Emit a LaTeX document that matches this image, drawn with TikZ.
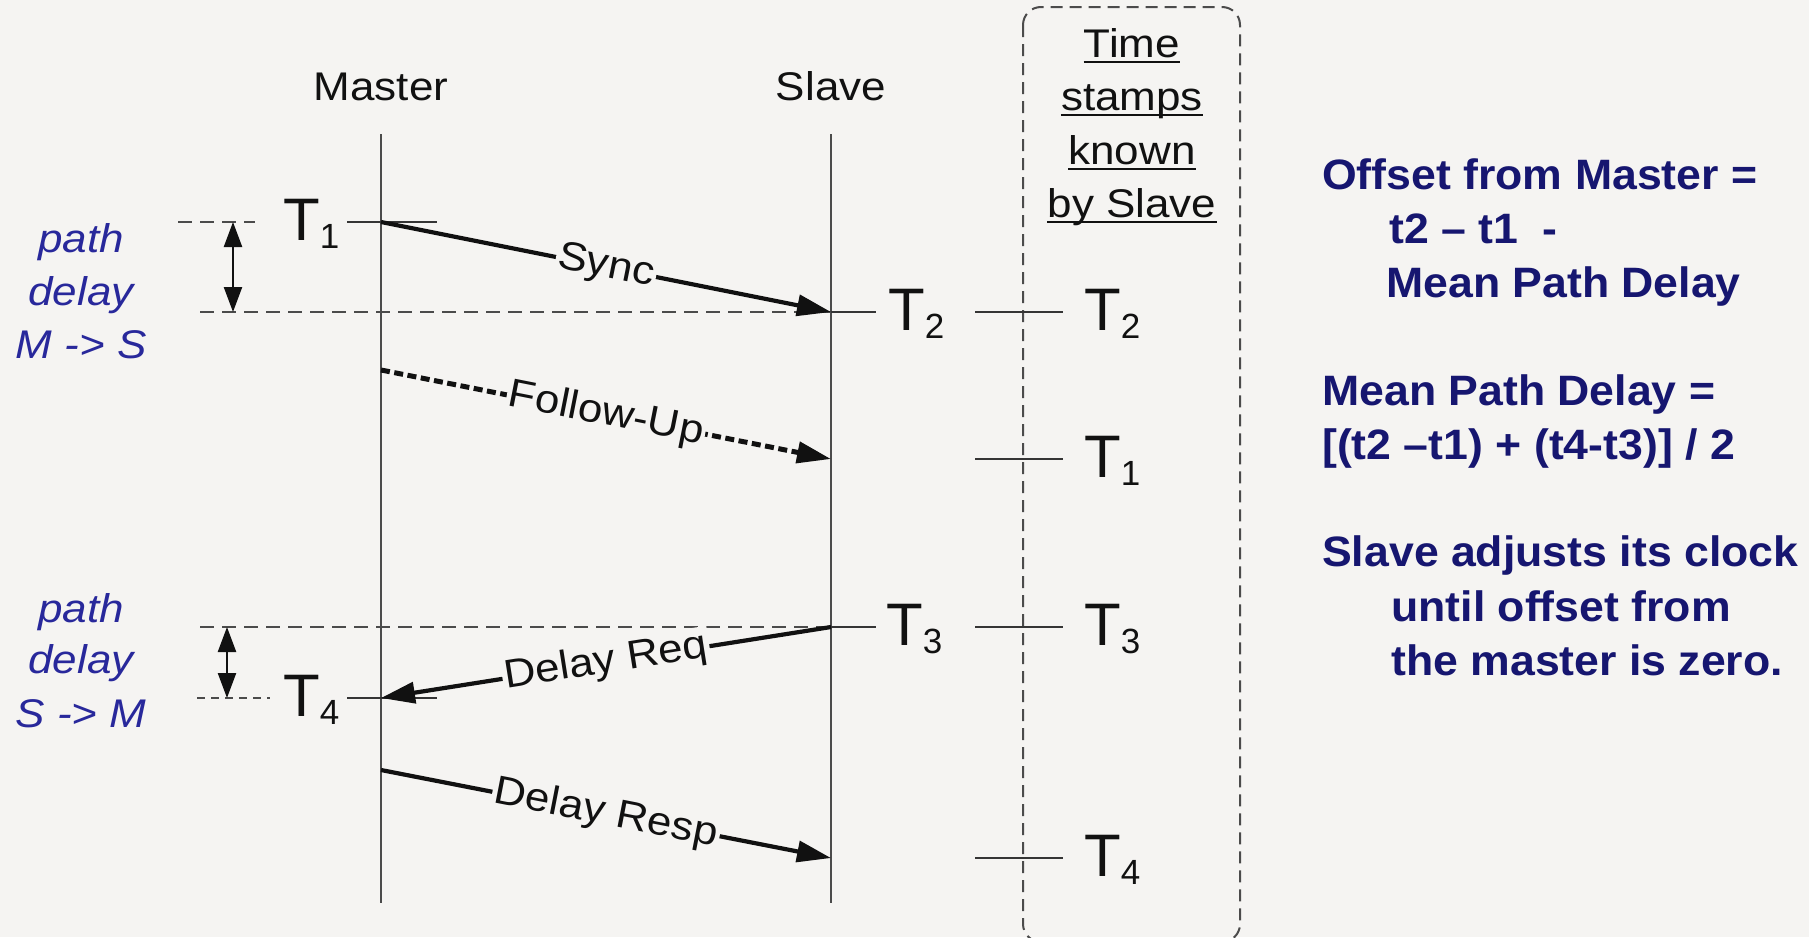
\documentclass[tikz,border=0pt]{standalone}
\usepackage{fontspec}
\setmainfont{Liberation Sans}
\newfontfamily\diagfont[FakeStretch=1.1]{Liberation Sans}
\newfontfamily\notefont[FakeStretch=1.05]{Liberation Sans}
\usetikzlibrary{arrows.meta}

\definecolor{paper}{RGB}{245,244,242}
\definecolor{ink}{RGB}{17,17,17}
\definecolor{rulegray}{RGB}{75,75,75}
\definecolor{pathblue}{RGB}{40,40,155}
\definecolor{noteblue}{RGB}{22,22,112}

% lowered index digit of a time stamp label
\newcommand\tsub[1]{\raisebox{-8pt}{\fontsize{35}{35}\selectfont #1}}

\begin{document}
\begin{tikzpicture}[x=1pt,y=-1pt,
  lifeline/.style={draw=rulegray, line width=2.5pt},
  tick/.style={draw=ink!85, line width=2pt},
  guide/.style={draw=rulegray, line width=2pt, dash pattern=on 14pt off 8pt},
  shortguide/.style={draw=rulegray, line width=2pt, dash pattern=on 8pt off 6pt},
  msg/.style={draw=ink, line width=4.2pt, -{Triangle[length=34pt,width=21pt]}},
  followmsg/.style={msg, line width=5pt, dash pattern=on 9pt off 4.5pt},
  span/.style={draw=ink, line width=2.4pt, {Triangle[length=25pt,width=18pt]}-{Triangle[length=25pt,width=18pt]}},
  head/.style={font=\diagfont\fontsize{40}{40}\selectfont, text=ink, inner sep=0pt, anchor=base},
  msglabel/.style={font=\diagfont\fontsize{40}{40}\selectfont, text=ink, fill=paper, inner sep=2pt, sloped},
  tlab/.style={font=\fontsize{60}{60}\selectfont, text=ink, inner sep=0pt, anchor=base west},
  pathnote/.style={font=\diagfont\itshape\fontsize{40}{40}\selectfont, text=pathblue, inner sep=0pt, anchor=base},
  note/.style={font=\notefont\bfseries\fontsize{42.5}{42.5}\selectfont, text=noteblue, inner sep=0pt, anchor=base west},
  frame/.style={draw=rulegray, line width=2pt, dash pattern=on 12pt off 7pt, rounded corners=18pt},
  underbar/.style={draw=ink, line width=2pt}
]
\useasboundingbox (0,0) rectangle (1809,937);
\fill[paper] (0,0) rectangle (1809,937);
\clip (0,0) rectangle (1809,937);

% ---- column of time stamps known by the slave
\coordinate (frameTL) at (1023,7);
\coordinate (frameBR) at (1240,942);
\draw[frame] (frameTL) rectangle (frameBR);
\node[head] (ts1) at (1132,57)  {Time};
\node[head] (ts2) at (1132,110) {stamps};
\node[head] (ts3) at (1132,164) {known};
\node[head] (ts4) at (1132,217) {by Slave};
\foreach \n in {ts1,ts2,ts3,ts4}
  \draw[underbar] ([yshift=-5pt]\n.base west) -- ([yshift=-5pt]\n.base east);

% ---- lifelines
\node[head] (master) at (381,100) {Master};
\node[head] (slave)  at (831,100) {Slave};
\coordinate (mTop) at (381,134);
\coordinate (mBot) at (381,903);
\coordinate (sTop) at (831,134);
\coordinate (sBot) at (831,903);

% ---- event points on the lifelines
\coordinate (m1) at (381,222);
\coordinate (s2) at (831,312);
\coordinate (mF) at (381,370);
\coordinate (sF) at (831,459);
\coordinate (s3) at (831,627);
\coordinate (m4) at (381,698);
\coordinate (mR) at (381,770);
\coordinate (sR) at (831,858);

% ---- dashed reference levels
\coordinate (g1a) at (178,222); \coordinate (g1b) at (255,222);
\coordinate (g2a) at (200,312);
\coordinate (g3a) at (200,627);
\coordinate (g4a) at (197,698); \coordinate (g4b) at (270,698);
\draw[guide] (g1a) -- (g1b);
\draw[guide] (g2a) -- (s2);
\draw[guide] (g3a) -- (s3);
\draw[shortguide] (g4a) -- (g4b);

\draw[lifeline] (mTop) -- (mBot);
\draw[lifeline] (sTop) -- (sBot);

% ---- short ticks at the stamps
\coordinate (k1a) at (347,222); \coordinate (k1b) at (437,222);
\coordinate (k4a) at (347,698); \coordinate (k4b) at (437,698);
\coordinate (k2b) at (876,312);
\coordinate (k3b) at (876,627);
\draw[tick] (k1a) -- (k1b);
\draw[tick] (k4a) -- (k4b);
\draw[tick] (s2) -- (k2b);
\draw[tick] (s3) -- (k3b);
\foreach \y/\n in {312/a,459/b,627/c,858/d}{
  \coordinate (r\n1) at (975,\y);
  \coordinate (r\n2) at (1063,\y);
  \draw[tick] (r\n1) -- (r\n2);
}

% ---- path delay spans
\coordinate (d1a) at (233,222); \coordinate (d1b) at (233,312);
\coordinate (d2a) at (227,627); \coordinate (d2b) at (227,698);
\draw[span] (d1a) -- (d1b);
\draw[span] (d2a) -- (d2b);
\node[pathnote] (pa1) at (81,252) {path};
\node[pathnote] (pa2) at (81,305) {delay};
\node[pathnote] (pa3) at (81,358) {M -> S};
\node[pathnote] (pb1) at (81,622) {path};
\node[pathnote] (pb2) at (81,673) {delay};
\node[pathnote] (pb3) at (81,727) {S -> M};

% ---- messages
\draw[msg] (m1) -- node[msglabel] (lsync) {Sync} (s2);
\draw[followmsg] (mF) -- node[msglabel] (lfollow) {Follow-Up} (sF);
\draw[msg] (s3) -- node[msglabel] (lreq) {Delay Req} (m4);
\draw[msg] (mR) -- node[msglabel] (lresp) {Delay Resp} (sR);

% ---- time stamp labels
\node[tlab] (T1m) at (283,240) {T\tsub{1}};
\node[tlab] (T4m) at (283,716) {T\tsub{4}};
\node[tlab] (T2s) at (888,330) {T\tsub{2}};
\node[tlab] (T3s) at (886,645) {T\tsub{3}};
\node[tlab] (T2k) at (1084,330) {T\tsub{2}};
\node[tlab] (T1k) at (1084,477) {T\tsub{1}};
\node[tlab] (T3k) at (1084,645) {T\tsub{3}};
\node[tlab] (T4k) at (1084,876) {T\tsub{4}};

% ---- explanation
\node[note] (n1) at (1322,189) {Offset from Master =};
\node[note] (n2) at (1389,243) {t2 – t1~~-};
\node[note] (n3) at (1386,297) {Mean Path Delay};
\node[note] (n4) at (1322,405) {Mean Path Delay =};
\node[note] (n5) at (1322,459) {[(t2 –t1) + (t4-t3)] / 2};
\node[note] (n6) at (1322,566) {Slave adjusts its clock};
\node[note] (n7) at (1391,621) {until offset from};
\node[note] (n8) at (1391,675) {the master is zero.};
\end{tikzpicture}
\end{document}
